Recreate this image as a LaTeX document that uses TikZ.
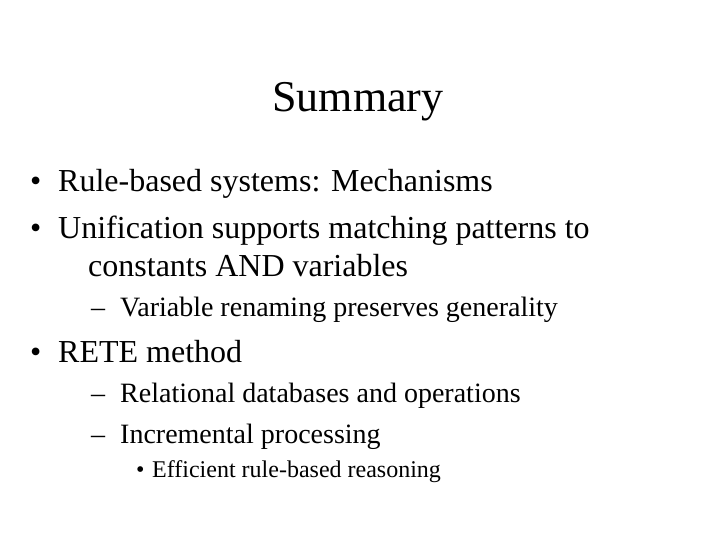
\documentclass[tikz,border=0pt]{standalone}
\usepackage{fontspec}
\setmainfont{Liberation Serif}
\begin{document}
\begin{tikzpicture}[x=1pt,y=-1pt,
  t/.style={anchor=base west,inner sep=0pt},
  l1/.style={t,font=\fontsize{32}{36}\selectfont},
  l2/.style={t,font=\fontsize{28}{32}\selectfont},
  l3/.style={t,font=\fontsize{24}{28}\selectfont}]
\useasboundingbox[fill=white] (0,0) rectangle (720,540);
\node[anchor=base,inner sep=0pt,font=\fontsize{44}{50}\selectfont] (title) at (358,112) {Summary};
\node[l1] (b1) at (30,192) {•};
\node[l1] (t1) at (58,192) {Rule-based systems: Mechanisms};
\node[l1] (b2) at (30,238) {•};
\node[l1] (t2) at (58,238) {Unification supports matching patterns to};
\node[l1] (t2b) at (88,276) {constants AND variables};
\node[l2] (d1) at (91,316) {–};
\node[l2] (s1) at (120,316) {Variable renaming preserves generality};
\node[l1] (b3) at (30,362) {•};
\node[l1] (t3) at (58,362) {RETE method};
\node[l2] (d2) at (91,402) {–};
\node[l2] (s2) at (120,402) {Relational databases and operations};
\node[l2] (d3) at (91,443) {–};
\node[l2] (s3) at (120,443) {Incremental processing};
\node[l3] (b4) at (136,477) {•};
\node[l3] (s4) at (152,477) {Efficient rule-based reasoning};
\end{tikzpicture}
\end{document}
